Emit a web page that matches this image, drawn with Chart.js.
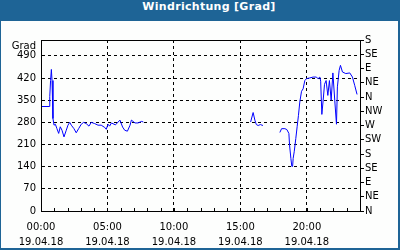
<!DOCTYPE html>
<html>
<head>
<meta charset="utf-8">
<script src="https://cdn.jsdelivr.net/npm/chart.js@4/dist/chart.umd.min.js"></script>
<style>
  html, body { margin: 0; padding: 0; background: #fff; }
  #box { position: relative; width: 400px; height: 250px; background: #1e6496; overflow: hidden; }
  #title { position: absolute; left: 0; top: 0; width: 400px; height: 21px; line-height: 21px;
           padding-left: 18px; box-sizing: border-box; text-align: center;
           color: #fff; font: bold 11px "DejaVu Sans", sans-serif; letter-spacing: 0.3px; }
  #panel { position: absolute; left: 1px; top: 21px; width: 397px; height: 227px; background: #fdfefd; }
  #chart { position: absolute; left: 0; top: 0; }
</style>
</head>
<body>
<div id="box">
  <div id="title">Windrichtung [Grad]</div>
  <div id="panel"></div>
  <canvas id="chart" width="400" height="250"></canvas>
</div>
<script>
// hours since 00:00, null = no reading
const hours = [
  0, 0.65, 0.66, 0.72, 0.78, 0.83, 0.9, 0.98, 1.08, 1.2, 1.33, 1.45, 1.58, 1.73, 1.9,
  2.03, 2.16, 2.28, 2.48, 2.65, 2.83, 3.03, 3.21, 3.4, 3.61, 3.78, 4.04, 4.29, 4.53,
  4.79, 4.91, 5.04, 5.16, 5.3, 5.6, 5.94, 6.14, 6.3, 6.5, 6.7, 6.8, 7.07, 7.3, 7.57, 7.7,
  11.7,
  15.77, 15.96, 16.09, 16.2, 16.34, 16.5, 16.7,
  17.3,
  17.97, 18.1, 18.35, 18.5, 18.65, 18.7, 18.8, 18.87, 18.93, 18.97, 19.05, 19.17, 19.27,
  19.37, 19.47, 19.6, 19.72, 19.85, 19.97, 20.2, 20.47, 20.7, 20.85, 20.98, 21.04, 21.13,
  21.25, 21.33, 21.45, 21.58, 21.7, 21.83, 21.96, 22.1, 22.23, 22.3, 22.43, 22.53, 22.68,
  22.93, 23.23, 23.43, 23.6, 23.78
];
const windDir = [
  330, 330, 362, 412, 447, 412, 292, 271, 274, 260, 245, 266, 255, 234, 255,
  271, 280, 271, 260, 247, 260, 274, 280, 276, 268, 280, 276, 271, 271,
  264, 258, 274, 268, 278, 272, 287, 265, 255, 252, 271, 287, 278, 278, 283, 281,
  null,
  281, 311, 287, 273, 270, 273, 270,
  null,
  248, 260, 260, 257, 245, 208, 166, 141, 141, 166, 187, 229, 266,
  302, 344, 378, 386, 412, 418, 420, 423, 423, 418, 423, 410, 305,
  360, 400, 412, 365, 412, 350, 436, 350, 274, 392, 444, 460, 439,
  434, 436, 423, 397, 368
];

const degTicks = [0, 70, 140, 210, 280, 350, 420, 490];
const compassTicks = [0, 45, 90, 135, 180, 225, 270, 315, 360, 405, 450, 495, 540];
const compassLabels = ['N', 'NE', 'E', 'SE', 'S', 'SW', 'W', 'NW', 'N', 'NE', 'E', 'SE', 'S'];
const hourTicks = [0, 5, 10, 15, 20];
const timeLabels = ['00:00', '05:00', '10:00', '15:00', '20:00'];
const dateLabel = '19.04.18';
const unitLabel = 'Grad';

Chart.defaults.font.family = 'DejaVu Sans';
Chart.defaults.font.size = 10;
Chart.defaults.color = '#000';

// solid plot frame, small hourly ticks inside the bottom edge, unit label
const framePlugin = {
  id: 'frame',
  afterDraw(chart) {
    const { ctx, chartArea: a, scales } = chart;
    ctx.save();
    ctx.strokeStyle = '#000';
    ctx.lineWidth = 1;
    ctx.strokeRect(a.left + 0.5, a.top + 0.5, a.right - a.left, a.bottom - a.top);
    ctx.beginPath();
    for (let h = 1; h < 24; h++) {
      const x = Math.round(scales.x.getPixelForValue(h)) + 0.5;
      ctx.moveTo(x, a.bottom);
      ctx.lineTo(x, a.bottom - 3);
    }
    ctx.stroke();
    ctx.font = '10px "DejaVu Sans"';
    ctx.fillStyle = '#000';
    ctx.textAlign = 'right';
    ctx.textBaseline = 'middle';
    ctx.fillText(unitLabel, a.left - 5, a.top + 6);
    ctx.restore();
  }
};

new Chart(document.getElementById('chart'), {
  type: 'line',
  data: {
    datasets: [{
      data: hours.map((h, i) => ({ x: h, y: windDir[i] })),
      borderColor: '#0000ff',
      borderWidth: 1,
      pointRadius: 0,
      tension: 0,
      spanGaps: false
    }]
  },
  options: {
    responsive: false,
    animation: false,
    layout: { padding: { top: 40, left: 0, right: 0, bottom: 0 } },
    plugins: { legend: { display: false }, tooltip: { enabled: false } },
    scales: {
      x: {
        type: 'linear', min: 0, max: 24,
        afterBuildTicks: s => { s.ticks = hourTicks.map(v => ({ value: v })); },
        afterFit: s => { s.height = 39; },
        ticks: {
          autoSkip: false, maxRotation: 0, padding: 9,
          font: { lineHeight: 1.5 },
          callback: (v, i) => [timeLabels[i], dateLabel]
        },
        grid: { color: '#000', drawTicks: false },
        border: { color: '#000', dash: [3, 3] }
      },
      y: {
        position: 'left', min: 0, max: 540,
        afterBuildTicks: s => { s.ticks = degTicks.map(v => ({ value: v })); },
        afterFit: s => { s.width = 41; },
        ticks: { padding: 5, autoSkip: false },
        grid: { color: '#000', drawTicks: false },
        border: { color: '#000', dash: [3, 3] }
      },
      y2: {
        position: 'right', min: 0, max: 540,
        afterBuildTicks: s => { s.ticks = compassTicks.map(v => ({ value: v })); },
        afterFit: s => { s.width = 40; },
        ticks: { padding: 1, autoSkip: false, callback: (v, i) => compassLabels[i] },
        grid: { drawOnChartArea: false, drawTicks: true, tickLength: 4, tickColor: '#000' },
        border: { color: '#000' }
      }
    }
  },
  plugins: [framePlugin]
});
</script>
</body>
</html>
